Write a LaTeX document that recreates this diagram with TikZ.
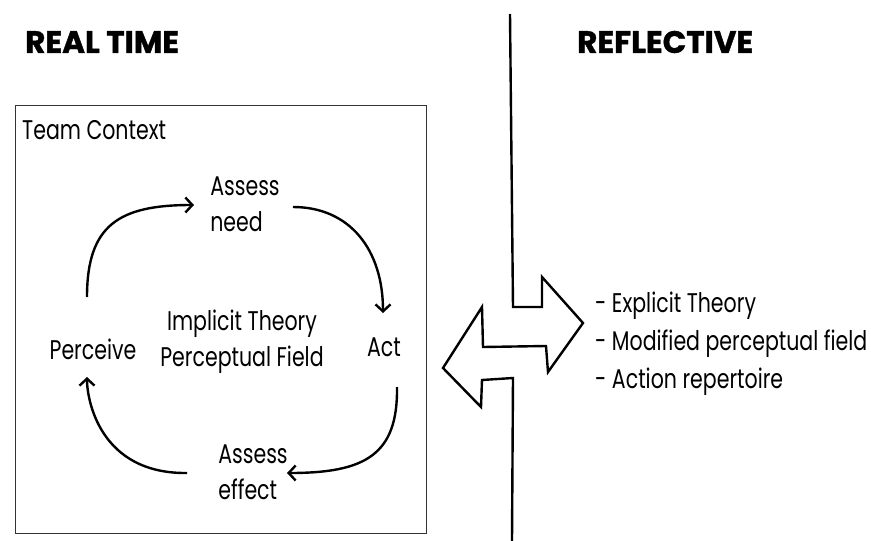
\documentclass[tikz,border=0pt]{standalone}
\usepackage{fontspec}
\setmainfont{Poppins}[FakeStretch=0.76]
\newfontfamily\headfont{Poppins}[BoldFeatures={FakeBold=1.2}]
\usetikzlibrary{
    positioning,
    calc,
    arrows.meta
}
\tikzset{
  heading/.style = {
      font=\headfont\bfseries\fontsize{31}{33}\selectfont,
      inner sep=0pt
  },
  body/.style = {
      font=\fontsize{27}{36}\selectfont,
      inner sep=1pt,
      align=left
  },
  frame/.style = {
      draw=black!80,
      line width=1.4pt
  },
  loop edge/.style = {
      line width=2.4pt,
      -{Straight Barb[length=7pt,width=15pt]}
  },
  outline/.style = {
      line width=2.4pt,
      line join=miter
  }
}
\begin{document}
\begin{tikzpicture}[x=1pt, y=-1pt]
        \useasboundingbox (0,0) rectangle (871,541);
        % Label
        \node[heading, anchor=west] (realtime) at (25,42) {REAL TIME};
        \node[heading, anchor=west] (reflective) at (577,42) {REFLECTIVE};
        % Context
        \node[frame, minimum width=411pt, minimum height=428pt, anchor=north west] (context) at (15,105) {};
        \node[body, anchor=west] (team) at (21,130) {Team Context};
        \node[body] (need) at (245,204) {Assess\\need};
        \node[body] (perceive) at (93,349) {Perceive};
        \node[body, align=center] (theory) at (242,342) {Implicit Theory\\Perceptual Field};
        \node[body] (act) at (384,347) {Act};
        \node[body] (effect) at (253,472) {Assess\\effect};
        \node[body, font=\fontsize{27}{38}\selectfont, anchor=west] (list) at (594,344) {- Explicit Theory\\- Modified perceptual field\\- Action repertoire};
        % Edges
        \draw[loop edge] ($(perceive)+(-6,-52)$) .. controls +(0,-72) and +(-75,0) .. ($(need)+(-51,1)$);
        \draw[loop edge] ($(need)+(48,3)$) .. controls +(57,0) and +(0,-63) .. ($(act)+(-1,-34)$);
        \draw[loop edge] ($(act)+(13,40)$) .. controls +(1,68) and +(78,0) .. ($(effect)+(34,1)$);
        \draw[loop edge] ($(effect)+(-66,1)$) .. controls +(-87,1) and +(0,23) .. ($(perceive)+(-6,28)$);
        % Divider
        \draw[outline] (510,14) -- (513,307) -- (542,307) -- (542,277) -- (583,323) -- (548,372) -- (546,346)
            -- (483,347) -- (482,307) -- (443,368) -- (481,407) -- (482,380) -- (513,378) -- (512,541);
\end{tikzpicture}
\end{document}
